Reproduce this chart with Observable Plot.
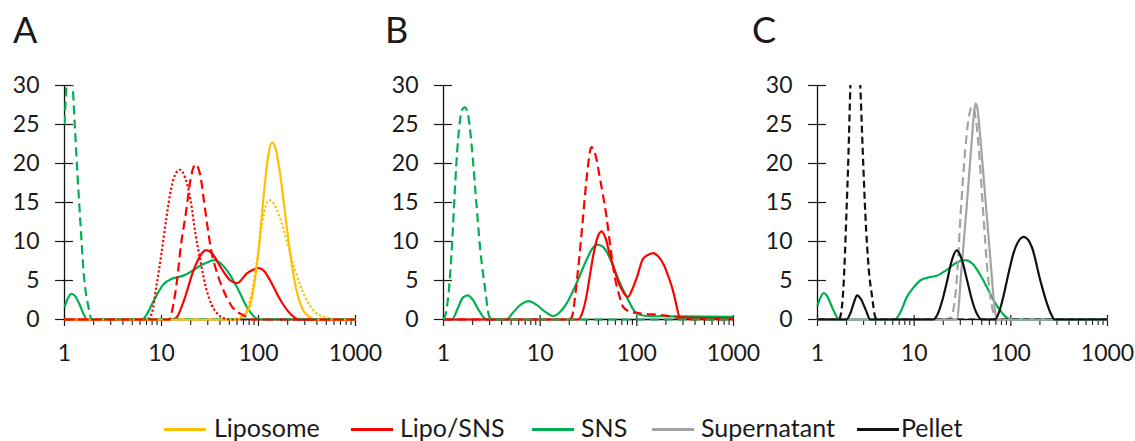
<!DOCTYPE html>
<html>
<head>
<meta charset="utf-8">
<script src="https://cdn.jsdelivr.net/npm/d3@7"></script>
<script src="https://cdn.jsdelivr.net/npm/@observablehq/plot@0.6"></script>
<style>
  html, body { margin: 0; padding: 0; background: #fff; }
  #wrap { position: relative; width: 1135px; height: 441px; overflow: hidden; font-family: Lato, sans-serif; color: #1a1a1a; background: #fff; }
  #plots { position: absolute; left: 0; top: 0; display: flex; }
  #plots svg { overflow: visible; background: transparent; }
  .letter { position: absolute; top: 11px; font-size: 36px; line-height: 36px; }
  .lg-line { position: absolute; top: 428px; width: 42px; height: 2.5px; }
  .lg-text { position: absolute; top: 415px; font-size: 25px; line-height: 25px; white-space: nowrap; }
</style>
</head>
<body>
<div id="wrap">
  <div id="plots"></div>
</div>
<script>
const xMajor = [1, 10, 100, 1000];
const xMinor = [2,3,4,5,6,7,8,9,20,30,40,50,60,70,80,90,200,300,400,500,600,700,800,900];
const yTicks = [0, 5, 10, 15, 20, 25, 30];

const colors = { lipo: "#FFC000", lipoSns: "#FF0000", sns: "#00B050", super: "#A3A3A3", pellet: "#111111" };
const legendLabels = ["Liposome", "Lipo/SNS", "SNS", "Supernatant", "Pellet"];
const panelLetters = ["A", "B", "C"];

// Panel A
const A_lipo = [[0,0],[1.76,0],[1.88,0.9],[1.94,3.3],[2.0,8.8],[2.06,16.7],[2.1,21.0],[2.14,22.7],[2.18,21.7],[2.22,18.9],[2.28,13.0],[2.34,7.3],[2.4,3.3],[2.46,1.2],[2.52,0.4],[2.6,0],[3,0]];
const A_lipoDot = [[0,0],[1.76,0],[1.82,0.3],[1.88,1.3],[1.94,4.1],[2.0,8.9],[2.05,13.2],[2.106,15.3],[2.16,14.8],[2.22,13.1],[2.3,9.7],[2.38,6.2],[2.46,3.4],[2.54,1.6],[2.62,0.6],[2.72,0.2],[2.8,0],[3,0]];
const A_lipoSns = [[0,0],[1.1,0],[1.15,0.2],[1.23,2.4],[1.33,6.3],[1.4,8.2],[1.46,8.9],[1.52,8.5],[1.61,6.7],[1.71,5.0],[1.78,4.65],[1.88,5.9],[1.95,6.4],[2.0,6.6],[2.06,6.2],[2.12,5.0],[2.23,2.4],[2.33,0.7],[2.42,0],[3,0]];
const A_lipoSnsDash = [[0,0],[1.08,0],[1.11,1.2],[1.16,5.0],[1.2,9.5],[1.25,13.5],[1.3,18.0],[1.35,19.9],[1.4,18.5],[1.44,15.0],[1.47,12.3],[1.51,9.0],[1.56,6.5],[1.63,4.0],[1.73,1.6],[1.85,0.5],[1.95,0],[3,0]];
const A_lipoSnsDot = [[0,0],[0.85,0],[0.9,0.8],[0.95,4.5],[1.0,8.5],[1.05,13],[1.1,16.8],[1.15,18.8],[1.19,19.2],[1.24,18.3],[1.3,15.3],[1.35,11],[1.4,7.6],[1.46,4.0],[1.52,1.8],[1.58,0.7],[1.66,0.1],[1.75,0],[3,0]];
const A_sns = [[0,1.6],[0.03,2.6],[0.07,3.3],[0.11,3.0],[0.16,1.8],[0.2,0.6],[0.235,0],[0.8,0],[0.84,0.5],[0.92,2.4],[1.02,4.5],[1.1,5.2],[1.16,5.4],[1.24,5.7],[1.3,6.1],[1.4,6.9],[1.47,7.3],[1.54,7.6],[1.6,7.3],[1.68,6.2],[1.78,4.1],[1.88,1.6],[1.97,0.2],[2.02,0],[3,0]];
const A_snsDash = [[0,25],[0.03,31],[0.06,31.5],[0.08,30.5],[0.106,24.9],[0.134,18.5],[0.165,12.2],[0.199,5.8],[0.25,1.4],[0.28,0],[3,0]];

// Panel B
const B_lipoSns = [[0,0],[1.395,0],[1.44,1.0],[1.478,2.9],[1.51,5.3],[1.546,8.0],[1.59,10.4],[1.636,11.3],[1.68,10.3],[1.72,8.3],[1.76,6.7],[1.83,4.2],[1.91,2.9],[1.95,3.8],[2.0,5.4],[2.065,7.8],[2.12,8.3],[2.168,8.5],[2.22,8.1],[2.28,7.0],[2.33,5.4],[2.374,3.7],[2.41,1.8],[2.443,0.3],[2.6,0.2],[3,0.15]];
const B_lipoSnsDash = [[0,0],[1.3,0],[1.327,0.3],[1.38,5],[1.437,12.2],[1.48,18],[1.53,22.1],[1.57,21.2],[1.62,18],[1.687,13.1],[1.73,9],[1.773,5.4],[1.82,3],[1.859,1.6],[1.93,1.0],[2.03,0.8],[2.3,0.5],[2.44,0.2],[2.6,0],[3,0]];
const B_sns = [[0,0],[0.086,0],[0.15,1.5],[0.2,2.8],[0.25,3.1],[0.3,2.6],[0.36,1.3],[0.43,0.1],[0.45,0],[0.65,0],[0.72,0.9],[0.8,1.9],[0.88,2.35],[0.96,1.9],[1.05,1.0],[1.137,0.45],[1.2,0.9],[1.271,2.0],[1.374,4.6],[1.478,7.6],[1.54,9.1],[1.592,9.6],[1.65,9.3],[1.7,8.4],[1.75,7.0],[1.82,4.8],[1.894,2.9],[1.997,0.8],[2.1,0.45],[2.5,0.4],[3,0.35]];
const B_snsDash = [[0,0],[0.01,0.2],[0.055,3.7],[0.09,10],[0.117,16.5],[0.15,23],[0.19,26.8],[0.22,27.2],[0.25,26.5],[0.29,22.5],[0.33,16.5],[0.38,9],[0.433,3.7],[0.47,0.5],[0.5,0],[3,0]];

// Panel C
const C_sns = [[0,1.8],[0.03,2.8],[0.065,3.4],[0.1,3.0],[0.15,1.6],[0.2,0.3],[0.22,0],[0.8,0],[0.86,1.0],[0.925,2.9],[1.0,4.2],[1.062,5.0],[1.15,5.4],[1.234,5.6],[1.33,6.3],[1.44,7.3],[1.526,7.6],[1.6,7.2],[1.68,5.8],[1.75,4.2],[1.82,2.5],[1.887,1.2],[1.95,0.3],[2.007,0],[3,0]];
const C_super = [[0,0],[1.44,0],[1.49,6.5],[1.54,14],[1.59,22],[1.62,26.5],[1.636,27.7],[1.655,27],[1.69,22.5],[1.74,15],[1.79,7.5],[1.84,0.8],[1.86,0],[3,0]];
const C_superDash = [[0,0],[1.35,0],[1.371,0.2],[1.405,1.2],[1.44,5.0],[1.481,13.6],[1.52,20.5],[1.56,25.5],[1.6,27.3],[1.64,25.5],[1.68,20],[1.715,13.6],[1.76,6],[1.8,2],[1.84,0.3],[1.87,0],[3,0]];
const C_pellet = [[0,0],[0.3,0],[0.34,0.8],[0.38,2.3],[0.409,3.1],[0.45,2.6],[0.5,1.2],[0.546,0],[1.199,0],[1.24,0.6],[1.29,2.4],[1.342,5.0],[1.39,7.6],[1.44,8.85],[1.49,7.8],[1.548,5.0],[1.6,2.4],[1.65,0.7],[1.698,0],[1.835,0],[1.88,1.0],[1.92,2.8],[1.96,5.0],[2.03,8.6],[2.134,10.6],[2.22,9.2],[2.305,5.0],[2.37,2.2],[2.42,0.6],[2.454,0],[3,0]];
const C_pelletDash = [[0,0],[0.22,0],[0.244,0.8],[0.27,4.5],[0.299,13.5],[0.32,21],[0.34,30],[0.365,38.5],[0.39,42],[0.415,39],[0.443,30],[0.47,21],[0.495,13.5],[0.53,6.5],[0.564,3.0],[0.598,0.3],[0.62,0],[3,0]];

const DASH = "9,5", DOT = "2.2,2.2";

const panels = [
  { width: 378, ml: 64, mr: 23, series: [
    { data: A_sns, color: colors.sns },
    { data: A_lipoSns, color: colors.lipoSns },
    { data: A_lipo, color: colors.lipo },
    { data: A_lipoDot, color: colors.lipo, dash: DOT },
    { data: A_lipoSnsDot, color: colors.lipoSns, dash: DOT },
    { data: A_lipoSnsDash, color: colors.lipoSns, dash: DASH },
    { data: A_snsDash, color: colors.sns, dash: DASH, clip: true }
  ]},
  { width: 378, ml: 65, mr: 23, series: [
    { data: B_sns, color: colors.sns },
    { data: B_lipoSns, color: colors.lipoSns },
    { data: B_lipoSnsDash, color: colors.lipoSns, dash: DASH },
    { data: B_snsDash, color: colors.sns, dash: DASH }
  ]},
  { width: 379, ml: 61, mr: 28, series: [
    { data: C_sns, color: colors.sns },
    { data: C_superDash, color: colors.super, dash: DASH },
    { data: C_super, color: colors.super },
    { data: C_pellet, color: colors.pellet },
    { data: C_pelletDash, color: colors.pellet, dash: "7,4", clip: true }
  ]}
];

function panel(p) {
  return Plot.plot({
    width: p.width, height: 370,
    marginTop: 85, marginBottom: 51, marginLeft: p.ml, marginRight: p.mr,
    style: { fontFamily: "Lato, sans-serif", fontSize: "23px", color: "#1a1a1a", background: "transparent", overflow: "visible" },
    x: { type: "log", domain: [1, 1000] },
    y: { domain: [0, 30] },
    marks: [
      Plot.axisY({ ticks: yTicks, tickSize: 0, tickPadding: 25, tickFormat: d => String(d), label: null }),
      Plot.axisY({ ticks: yTicks, tickSize: 18, dx: 9, tickFormat: () => "", label: null, strokeWidth: 1.2 }),
      Plot.axisX({ ticks: xMinor, tickSize: 6, tickFormat: () => "", label: null, strokeWidth: 1.1 }),
      Plot.axisX({ ticks: xMajor, tickSize: 11, dy: -4, tickFormat: () => "", label: null, strokeWidth: 1.2 }),
      Plot.axisX({ ticks: xMajor, tickSize: 0, tickPadding: 25, tickFormat: d => String(d), label: null }),
      Plot.ruleX([1], { y1: 0, y2: 30, stroke: "#111", strokeWidth: 1.3 }),
      Plot.ruleY([0], { x1: 1, x2: 1000, stroke: "#111", strokeWidth: 1.3 }),
      ...p.series.map(s => Plot.line(s.data, {
        x: d => 10 ** d[0], y: d => d[1],
        stroke: s.color, strokeWidth: 2.2,
        strokeDasharray: s.dash || null,
        strokeLinecap: "butt", strokeLinejoin: "round",
        curve: "monotone-x", clip: !!s.clip
      }))
    ]
  });
}

const plots = document.getElementById("plots");
panels.forEach(p => plots.appendChild(panel(p)));

const wrap = document.getElementById("wrap");
const letterX = [13, 385, 752];
panelLetters.forEach((t, i) => {
  const d = document.createElement("div");
  d.className = "letter"; d.textContent = t; d.style.left = letterX[i] + "px";
  wrap.appendChild(d);
});

const legendColors = [colors.lipo, colors.lipoSns, colors.sns, colors.super, colors.pellet];
const lineX = [164, 351, 532, 652, 857];
const textX = [214, 400, 581, 701, 901];
legendLabels.forEach((t, i) => {
  const l = document.createElement("div");
  l.className = "lg-line"; l.style.left = lineX[i] + "px"; l.style.background = legendColors[i];
  wrap.appendChild(l);
  const s = document.createElement("div");
  s.className = "lg-text"; s.style.left = textX[i] + "px"; s.textContent = t;
  wrap.appendChild(s);
});
</script>
</body>
</html>
